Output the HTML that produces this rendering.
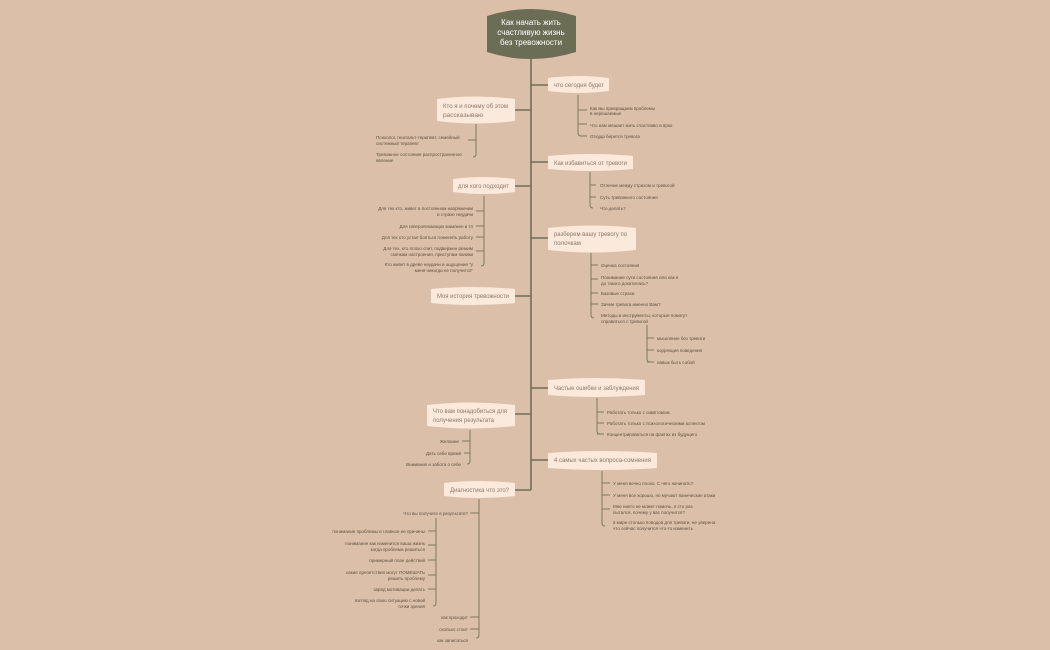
<!DOCTYPE html>
<html><head><meta charset="utf-8"><style>
html,body{margin:0;padding:0;background:#dcbfa8;}
svg{display:block;}
.n{fill:#fbe9dc;}
.nt{font-family:"Liberation Sans",sans-serif;font-size:6.3px;fill:#8a7868;}
.t{font-family:"Liberation Sans",sans-serif;font-size:4.5px;fill:#5e5040;}
.l{stroke:#7b7a5e;stroke-width:1;fill:none;}
.s{stroke:#6e6f55;stroke-width:1.6;fill:none;}
</style></head><body>
<svg width="1050" height="650" viewBox="0 0 1050 650" xmlns="http://www.w3.org/2000/svg">
<path class="s" d="M531 56 V490"/>
<path class="s" d="M531 85 H548 M531 162 H548 M531 238 H548 M531 388 H548 M531 460 H548 M531 110 H515 M531 186 H515 M531 296 H515 M531 414 H515 M531 490 H515"/>
<path d="M487 16 Q531 2 576 16 L576 52 Q531 66 487 52 Z" fill="#6b6d55"/>
<text x="531" y="25" text-anchor="middle" font-family="Liberation Sans,sans-serif" font-size="8" fill="#fff">Как начать жить</text>
<text x="531" y="35" text-anchor="middle" font-family="Liberation Sans,sans-serif" font-size="8" fill="#fff">счастливую жизнь</text>
<text x="531" y="45" text-anchor="middle" font-family="Liberation Sans,sans-serif" font-size="8" fill="#fff">без тревожности</text>

<path class="n" d="M548 78 Q578 74 609 78 L609 91 Q578 95 548 91 Z"/>
<text class="nt" x="554" y="87" textLength="50" lengthAdjust="spacingAndGlyphs">что сегодня будет</text>
<path class="n" d="M548 156 Q590 152 633 156 L633 169 Q590 173 548 169 Z"/>
<text class="nt" x="554" y="165" textLength="73" lengthAdjust="spacingAndGlyphs">Как избавиться от тревоги</text>
<path class="n" d="M548 228 Q592 223 636 228 L636 250 Q592 255 548 250 Z"/>
<text class="nt" x="554" y="236" textLength="73" lengthAdjust="spacingAndGlyphs">разберем вашу тревогу по</text>
<text class="nt" x="554" y="245" textLength="27" lengthAdjust="spacingAndGlyphs">полочкам</text>
<path class="n" d="M548 380 Q596 376 645 380 L645 395 Q596 399 548 395 Z"/>
<text class="nt" x="554" y="390" textLength="85" lengthAdjust="spacingAndGlyphs">Частые ошибки и заблуждения</text>
<path class="n" d="M548 453 Q602 449 657 453 L657 468 Q602 472 548 468 Z"/>
<text class="nt" x="554" y="462" textLength="97" lengthAdjust="spacingAndGlyphs">4 самых частых вопроса-сомнения</text>

<path class="n" d="M437 99 Q476 94 515 99 L515 121 Q476 126 437 121 Z"/>
<text class="nt" x="443" y="108" textLength="65" lengthAdjust="spacingAndGlyphs">Кто я и почему об этом</text>
<text class="nt" x="443" y="117" textLength="40" lengthAdjust="spacingAndGlyphs">рассказываю</text>
<path class="n" d="M453 179 Q484 175 515 179 L515 192 Q484 196 453 192 Z"/>
<text class="nt" x="458" y="188" textLength="51" lengthAdjust="spacingAndGlyphs">для кого подходит</text>
<path class="n" d="M431 289 Q473 285 515 289 L515 303 Q473 307 431 303 Z"/>
<text class="nt" x="437" y="298" textLength="72" lengthAdjust="spacingAndGlyphs">Моя история тревожности</text>
<path class="n" d="M427 405 Q471 400 515 405 L515 426 Q471 431 427 426 Z"/>
<text class="nt" x="433" y="413" textLength="74" lengthAdjust="spacingAndGlyphs">Что вам понадобиться для</text>
<text class="nt" x="433" y="422" textLength="61" lengthAdjust="spacingAndGlyphs">получения результата</text>
<path class="n" d="M444 483 Q479 479 515 483 L515 496 Q479 500 444 496 Z"/>
<text class="nt" x="450" y="492" textLength="59" lengthAdjust="spacingAndGlyphs">Диагностика что это?</text>

<path class="l" d="M578 95 V133 Q578 136 581 136 H587 M578 110 H587 M578 124 H587"/>
<text class="t" x="590" y="110">Как мы превращаем проблемы</text>
<text class="t" x="590" y="115">в нерешаемые</text>
<text class="t" x="590" y="127">Что нам мешает жить счастливо и ярко</text>
<text class="t" x="590" y="138">Откуда берется тревога</text>

<path class="l" d="M590 172 V205 Q590 208 593 208 M590 185 H596 M590 197 H596"/>
<text class="t" x="600" y="187">Отличие между страхом и тревогой</text>
<text class="t" x="600" y="199">Суть тревожного состояния</text>
<text class="t" x="600" y="210">Что делать?</text>

<path class="l" d="M591 253 V315 Q591 318 594 318 M591 265 H598 M591 279 H598 M591 293 H598 M591 304 H598"/>
<text class="t" x="601" y="267">Оценка состояния</text>
<text class="t" x="601" y="279">Понимание сути состояния или как я</text>
<text class="t" x="601" y="285">до такого докатилась?</text>
<text class="t" x="601" y="295">Базовые страхи</text>
<text class="t" x="601" y="306">Зачем тревога именно Вам?</text>
<text class="t" x="601" y="317">Методы и инструменты, которые помогут</text>
<text class="t" x="601" y="323">справиться с тревогой</text>

<path class="l" d="M647 325 V359 Q647 362 650 362 M647 338 H654 M647 350 H654 M647 362 H654"/>
<text class="t" x="657" y="340">мышление без тревоги</text>
<text class="t" x="657" y="352">коррекция поведения</text>
<text class="t" x="657" y="364">навык быть собой</text>

<path class="l" d="M597 398 V431 Q597 434 600 434 M597 412 H604 M597 423 H604 M597 434 H604"/>
<text class="t" x="607" y="414">Работать только с симптомом</text>
<text class="t" x="607" y="425">Работать только с психологическими аспектом</text>
<text class="t" x="607" y="436">Концентрироваться на фактах из будущего</text>

<path class="l" d="M602 471 V523 Q602 526 605 526 M602 483 H610 M602 495 H610 M602 509 H610"/>
<text class="t" x="613" y="485">У меня вечно плохо. С чего начинать?</text>
<text class="t" x="613" y="497">У меня все хорошо, но мучают панические атаки</text>
<text class="t" x="613" y="508">Мне никто не может помочь, я сто раз</text>
<text class="t" x="613" y="514">пытался, почему у вас получится?</text>
<text class="t" x="613" y="524">в мире столько поводов для тревоги, не уверена</text>
<text class="t" x="613" y="530">что сейчас получится что-то изменить</text>

<path class="l" d="M476 124 V154 Q476 157 473 157 M476 140 H468"/>
<text class="t" x="376" y="139">Психолог, гештальт-терапевт, семейный</text>
<text class="t" x="376" y="145">системный терапевт</text>
<text class="t" x="376" y="156">Тревожное состояние распространенное</text>
<text class="t" x="376" y="162">явление</text>

<path class="l" d="M484 196 V263 Q484 266 481 266 M484 211 H476 M484 226 H476 M484 237 H476 M484 251 H476"/>
<g text-anchor="end">
<text class="t" x="473" y="210">Для тех кто, живет в постоянном напряжении</text>
<text class="t" x="473" y="216">и страхе неудачи</text>
<text class="t" x="473" y="228">Для гиперопекающих мам/жен и тп</text>
<text class="t" x="473" y="239">Для тех кто устал бояться поменять работу</text>
<text class="t" x="473" y="250">Для тех, кто плохо спит, подвержен резким</text>
<text class="t" x="473" y="256">скачкам настроения, приступам паники</text>
<text class="t" x="473" y="266">Кто живет в древе неудачи и ощущения "у</text>
<text class="t" x="473" y="272">меня никогда не получится"</text>

<text class="t" x="459" y="443">Желание</text>
<text class="t" x="461" y="455">Дать себе время</text>
<text class="t" x="461" y="466">Внимание и забота о себе</text>

<text class="t" x="468" y="515">Что вы получите в результате?</text>
<text class="t" x="425" y="533">понимание проблемы и главное ее причины</text>
<text class="t" x="425" y="545">понимание как изменится ваша жизнь</text>
<text class="t" x="425" y="551">когда проблема решиться</text>
<text class="t" x="425" y="562">примерный план действий</text>
<text class="t" x="425" y="574">какие препятствия могут ПОМЕШАТЬ</text>
<text class="t" x="425" y="580">решить проблему</text>
<text class="t" x="425" y="591">заряд мотивации делать</text>
<text class="t" x="425" y="602">взгляд на свою ситуацию с новой</text>
<text class="t" x="425" y="608">точки зрения</text>
<text class="t" x="468" y="619">как проходит</text>
<text class="t" x="468" y="631">сколько стоит</text>
<text class="t" x="468" y="642">как записаться</text>
</g>

<path class="l" d="M470 430 V461 Q470 464 467 464 M470 441 H462 M470 453 H464"/>
<path class="l" d="M479 499 V635 Q479 638 476 638 M479 513 H470 M479 617 H470 M479 629 H470"/>
<path class="l" d="M436 518 V603 Q436 606 433 606 M436 531 H428 M436 545 H428 M436 560 H428 M436 575 H428 M436 589 H428"/>
</svg>
</body></html>
